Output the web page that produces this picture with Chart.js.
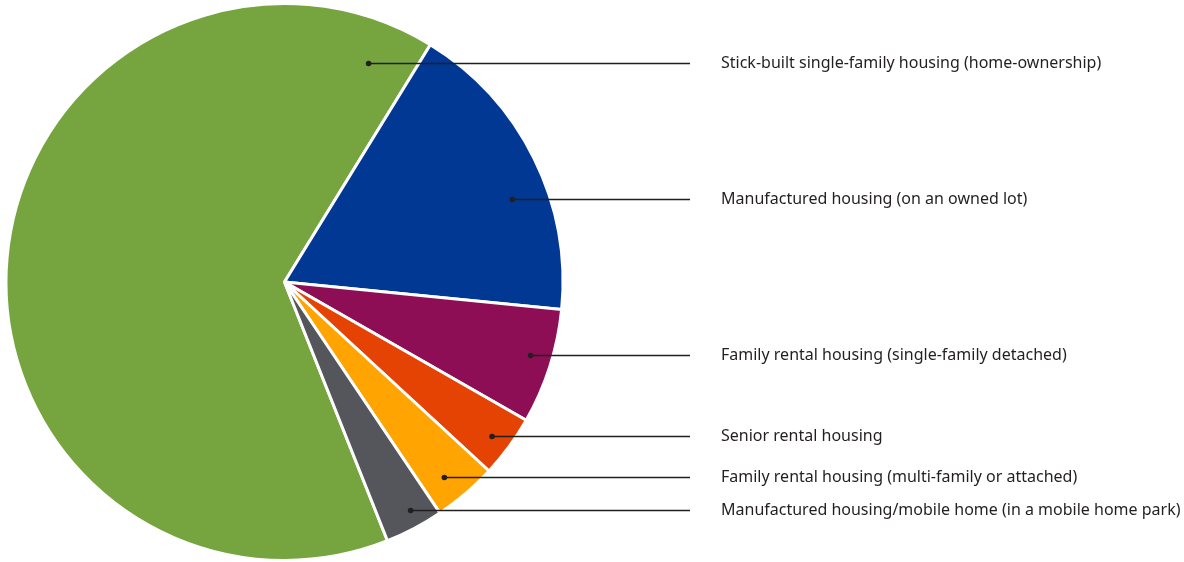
<!DOCTYPE html>
<html>
<head>
<meta charset="utf-8">
<title>Housing types</title>
<script src="https://cdn.jsdelivr.net/npm/chart.js@4.4.1/dist/chart.umd.min.js"></script>
<style>
  html, body { margin: 0; padding: 0; background: #fff; }
  #wrap { position: relative; width: 1184px; height: 562px; }
</style>
</head>
<body>
<div id="wrap"><canvas id="pie"></canvas></div>
<script>
// ── Data ─────────────────────────────────────────────────────
const categories = [
    'Stick-built single-family housing (home-ownership)',
    'Manufactured housing (on an owned lot)',
    'Family rental housing (single-family detached)',
    'Senior rental housing',
    'Family rental housing (multi-family or attached)',
    'Manufactured housing/mobile home (in a mobile home park)'
];
const shares = [64.8, 17.8, 6.7, 3.6, 3.7, 3.4];
const colors = ['#76a53f', '#003893', '#8d0e55', '#e54304', '#ffa400', '#54565b'];

// ── Callout layout: label row (fraction of radius from centre) and
//    how far out along the slice the dot sits ──────────────────
const calloutRow    = [-0.786, -0.299, 0.263, 0.553, 0.701, 0.818];
const calloutRadius = [0.842, 0.871, 0.922, 0.928, 0.906, 0.935];
const lineEndX  = 690;
const labelX    = 721;

const callouts = {
    id: 'callouts',
    afterDatasetsDraw(chart) {
        const ctx = chart.ctx;
        const arcs = chart.getDatasetMeta(0).data;
        ctx.save();
        ctx.strokeStyle = '#231f20';
        ctx.fillStyle = '#231f20';
        ctx.lineWidth = 1.3;
        ctx.font = '16px "Noto Sans", Lato, sans-serif';
        ctx.textBaseline = 'middle';
        arcs.forEach((arc, i) => {
            const { x, y, outerRadius } = arc.getProps(['x', 'y', 'outerRadius'], true);
            const dy = calloutRow[i] * outerRadius;
            const r  = calloutRadius[i] * outerRadius;
            const dx = Math.sqrt(Math.max(r * r - dy * dy, 0));
            const px = x + dx, py = Math.round(y + dy) + 0.5;

            ctx.beginPath();
            ctx.moveTo(px, py);
            ctx.lineTo(lineEndX, py);
            ctx.stroke();

            ctx.beginPath();
            ctx.arc(px, py, 2.8, 0, Math.PI * 2);
            ctx.fill();

            ctx.fillText(categories[i], labelX, py);
        });
        ctx.restore();
    }
};

new Chart(document.getElementById('pie'), {
    type: 'pie',
    data: {
        labels: categories,
        datasets: [{
            data: shares,
            backgroundColor: colors,
            borderColor: '#ffffff',
            borderWidth: 3,
            hoverOffset: 0
        }]
    },
    options: {
        responsive: true,
        maintainAspectRatio: false,
        devicePixelRatio: 1,
        animation: false,
        rotation: 158.3,
        layout: { padding: { left: 4, top: 2, right: 619, bottom: 0 } },
        plugins: {
            legend: { display: false },
            tooltip: { enabled: false }
        }
    },
    plugins: [callouts]
});
</script>
</body>
</html>
